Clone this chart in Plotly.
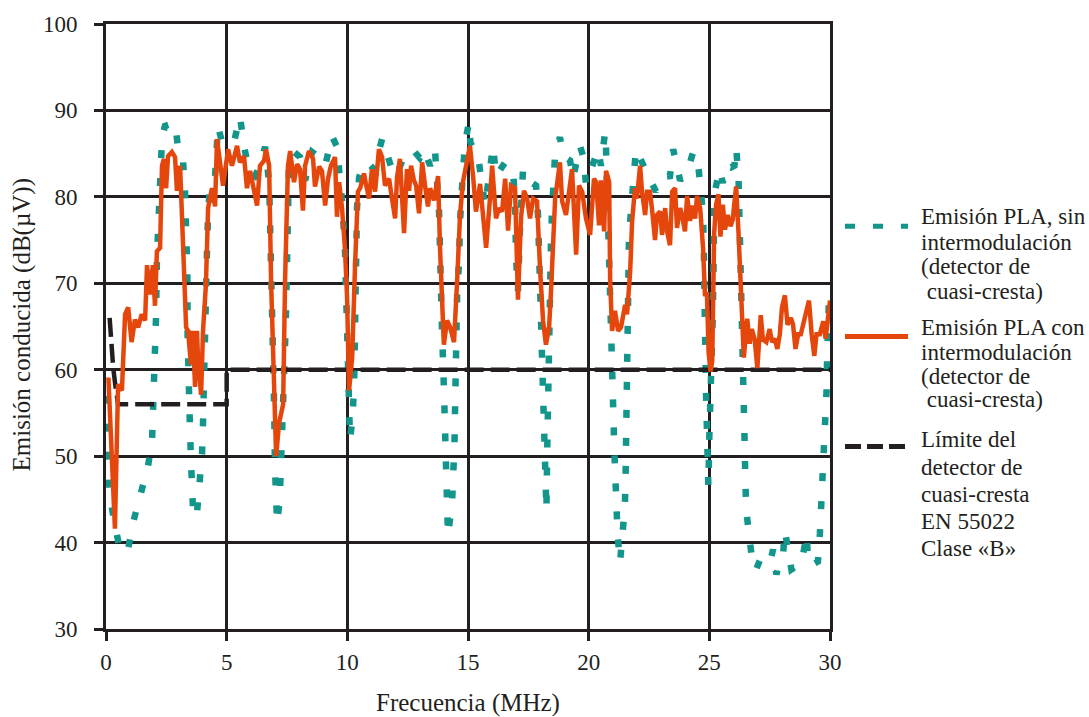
import plotly.graph_objects as go

# ---------------- data ----------------
freq_con = [0.1, 0.2, 0.37, 0.5, 0.66, 0.79, 0.92, 1.06, 1.2, 1.33, 1.48, 1.62, 1.7, 1.82, 1.94, 2.03,
            2.11, 2.24, 2.32, 2.40, 2.49, 2.57, 2.73, 2.86, 2.94, 3.07, 3.19, 3.32, 3.40, 3.52, 3.60, 3.69,
            3.77, 3.81, 3.94, 4.02, 4.14, 4.23, 4.39, 4.52, 4.60, 4.72, 4.85, 5.06, 5.22, 5.43, 5.55, 5.72,
            5.84, 5.97, 6.13, 6.26, 6.38, 6.55, 6.63, 6.76, 6.84, 6.96, 7.05, 7.17, 7.34, 7.42, 7.54, 7.63,
            7.79, 7.92, 8.04, 8.16, 8.25, 8.41, 8.58, 8.66, 8.83, 8.95, 9.08, 9.20, 9.32, 9.49, 9.57, 9.66,
            9.78, 9.90, 9.99, 10.07, 10.2, 10.32, 10.44, 10.53, 10.69, 10.77, 10.9, 11.02, 11.15, 11.31,
            11.44, 11.56, 11.73, 11.85, 11.98, 12.06, 12.18, 12.35, 12.47, 12.56, 12.64, 12.76, 12.85,
            12.97, 13.1, 13.22, 13.34, 13.43, 13.59, 13.76, 13.84, 14.0, 14.13, 14.26, 14.42, 14.55,
            14.67, 14.79, 14.92, 15.08, 15.21, 15.33, 15.5, 15.62, 15.75, 15.91, 16.0, 16.16, 16.29,
            16.41, 16.54, 16.66, 16.78, 16.95, 17.07, 17.2, 17.32, 17.45, 17.57, 17.7, 17.86, 17.99,
            18.11, 18.23, 18.36, 18.44, 18.61, 18.81, 18.9, 19.06, 19.19, 19.31, 19.48, 19.6, 19.73,
            19.89, 20.06, 20.22, 20.31, 20.43, 20.51, 20.64, 20.72, 20.85, 20.89, 20.97, 21.09, 21.22,
            21.34, 21.51, 21.59, 21.72, 21.8, 21.92, 22.0, 22.13, 22.21, 22.34, 22.42, 22.54, 22.62,
            22.75, 22.83, 22.96, 23.04, 23.17, 23.25, 23.37, 23.46, 23.58, 23.66, 23.79, 23.87, 23.99,
            24.08, 24.2, 24.28, 24.41, 24.49, 24.62, 24.74, 24.82, 24.9, 24.97, 25.05, 25.12, 25.2,
            25.28, 25.38, 25.46, 25.56, 25.65, 25.76, 25.88, 25.97, 26.11, 26.21, 26.32, 26.43, 26.57,
            26.67, 26.76, 26.88, 26.99, 27.13, 27.22, 27.36, 27.5, 27.6, 27.71, 27.82, 27.92, 28.01,
            28.13, 28.24, 28.38, 28.47, 28.57, 28.68, 28.79, 28.89, 29.03, 29.13, 29.24, 29.35, 29.44,
            29.58, 29.72, 29.82, 30.0]
emis_con = [59.1, 52.0, 41.6, 58.3, 57.6, 66.4, 67.2, 63.2, 65.8, 64.9, 66.4, 65.7, 72.1, 68.7, 72.1, 67.4,
            73.7, 74.1, 83.6, 84.4, 81.0, 84.7, 85.2, 84.6, 80.7, 83.6, 74.1, 64.9, 64.5, 60.6, 64.5, 58.0,
            64.5, 61.4, 57.1, 64.5, 69.8, 78.7, 81.0, 78.9, 86.7, 83.6, 81.3, 85.5, 83.6, 85.9, 84.0, 84.7,
            81.0, 83.0, 81.0, 79.0, 83.6, 84.2, 85.5, 83.6, 70.3, 58.8, 50.0, 53.8, 56.0, 70.3, 83.6, 85.3,
            81.7, 83.8, 83.2, 78.4, 83.6, 85.3, 84.4, 81.2, 83.5, 83.0, 79.0, 82.1, 83.6, 84.6, 77.7, 81.7,
            78.7, 74.1, 68.3, 57.6, 61.4, 72.1, 80.6, 81.0, 82.7, 81.5, 79.8, 83.2, 80.6, 85.5,
            84.6, 81.3, 82.1, 79.8, 77.5, 82.3, 84.4, 75.8, 83.2, 80.7, 83.6, 81.9, 81.3,
            78.1, 84.0, 81.3, 78.9, 81.0, 79.6, 82.4, 74.1, 62.9, 65.7, 64.9, 63.2, 70.3,
            77.9, 81.7, 83.6, 85.9, 82.4, 78.3, 81.5, 77.5, 74.1, 79.8, 83.6, 77.5, 78.7,
            78.3, 82.1, 76.1, 81.3, 81.0, 68.1, 77.7, 80.7, 79.8, 77.5, 79.8, 79.5, 71.4,
            65.7, 62.9, 64.9, 69.1, 79.8, 84.0, 79.5, 77.9, 81.0, 83.2, 73.3, 81.3, 80.6,
            77.5, 75.6, 82.1, 81.7, 76.7, 81.9, 76.0, 83.0, 81.7, 70.3, 64.5, 66.8, 64.5,
            64.9, 67.5, 66.4, 71.4, 77.2, 81.0, 79.8, 83.6, 80.6, 77.9, 80.6, 80.6, 78.7,
            75.0, 77.9, 78.3, 75.6, 78.7, 76.0, 74.4, 80.6, 81.0, 76.4, 78.7, 77.9, 76.0,
            80.1, 77.2, 79.0, 77.5, 80.1, 78.7, 74.1, 68.5, 69.0, 62.0, 59.8, 61.0, 75.8,
            79.1, 80.3, 75.4, 79.1, 76.2, 77.9, 76.6, 77.4, 81.2, 75.8, 69.6, 61.4, 65.9,
            63.0, 64.7, 63.5, 60.2, 66.3, 63.5, 63.2, 64.7, 63.2, 63.6, 62.4, 64.1, 67.2,
            68.6, 65.2, 66.0, 65.2, 62.4, 64.1, 64.1, 65.2, 66.8, 68.0, 64.1, 61.6, 64.1,
            64.1, 65.6, 63.6, 68.0]

freq_sin = [0.0, 0.05, 0.12, 0.25, 0.37, 0.55, 0.75, 0.9, 1.12, 1.41, 1.74, 1.91, 1.95, 2.03, 2.05, 2.07,
            2.11, 2.15, 2.24, 2.32, 2.44, 2.6, 2.86, 2.98, 3.19, 3.27, 3.33, 3.37, 3.38, 3.40, 3.44, 3.48,
            3.52, 3.56, 3.62, 3.77, 3.9, 3.98, 4.02, 4.04, 4.08, 4.1, 4.14, 4.19, 4.23, 4.31, 4.52, 4.64,
            4.81, 5.06, 5.3, 5.55, 5.72, 5.93, 6.17, 6.38, 6.59, 6.76, 6.8, 6.84, 6.86, 6.92, 6.94, 6.96,
            6.97, 7.0, 7.05, 7.09, 7.2, 7.25, 7.33, 7.38, 7.4, 7.42, 7.46, 7.48, 7.5, 7.54, 7.58, 7.79,
            8.04, 8.25, 8.54, 8.83, 9.08, 9.37, 9.57, 9.78, 9.9, 9.99, 10.02, 10.07, 10.11, 10.2, 10.28,
            10.32, 10.34, 10.36, 10.4, 10.49, 10.69, 10.82, 11.11, 11.44, 11.73, 11.94, 12.14, 12.35,
            12.56, 12.76, 13.0, 13.18, 13.43, 13.63, 13.8, 13.84, 13.92, 14.0, 14.03, 14.05, 14.09,
            14.13, 14.17, 14.34, 14.42, 14.44, 14.46, 14.47, 14.49, 14.55, 14.63, 14.67, 14.79, 14.88,
            15.04, 15.1, 15.42, 15.54, 15.71, 15.95, 16.04, 16.16, 16.54, 16.87, 16.95, 16.99, 17.07,
            17.15, 17.28, 17.61, 17.82, 17.9, 17.94, 17.97, 17.99, 18.01, 18.07, 18.11, 18.15, 18.19,
            18.23, 18.25, 18.28, 18.32, 18.36, 18.4, 18.44, 18.48, 18.53, 18.61, 18.81, 18.94, 19.23,
            19.35, 19.64, 19.77, 19.89, 20.18, 20.39, 20.51, 20.68, 20.72, 20.76, 20.8, 20.85, 20.89,
            20.91, 20.93, 20.97, 21.0, 21.03, 21.06, 21.1, 21.15, 21.2, 21.3, 21.42, 21.5, 21.53, 21.55,
            21.56, 21.57, 21.58, 21.6, 21.63, 21.65, 21.67, 21.76, 21.84, 21.96, 22.34, 22.54, 22.79,
            23.08, 23.37, 23.5, 23.79, 24.12, 24.33, 24.53, 24.66, 24.74, 24.77, 24.79, 24.82, 24.86,
            24.9, 24.93, 24.96, 25.0, 25.04, 25.07, 25.14, 25.18, 25.21, 25.42, 25.56, 25.69, 25.9,
            26.04, 26.11, 26.21, 26.25, 26.32, 26.34, 26.39, 26.4, 26.43, 26.45, 26.47, 26.49, 26.53,
            26.67, 26.81, 26.94, 27.1, 27.29, 27.5, 27.64, 27.78, 27.92, 28.06, 28.13, 28.26, 28.4,
            28.61, 28.82, 29.03, 29.1, 29.31, 29.5, 29.58, 29.65, 29.72, 29.79, 29.82, 29.86, 29.88,
            29.9, 29.95]
emis_sin = [57.0, 50.5, 47.0, 43.9, 41.9, 39.5, 38.8, 39.0, 42.3, 45.7, 48.8, 51.9, 55.4, 58.8, 62.2, 65.8,
            72.9, 76.7, 83.2, 86.7, 88.2, 88.4, 88.6, 85.8, 84.2, 81.0, 77.2, 71.4, 64.1, 60.0, 56.5, 53.1,
            49.6, 46.2, 42.9, 43.4, 46.9, 50.3, 53.8, 57.7, 61.1, 64.5, 71.0, 74.4, 77.9, 81.5, 82.4, 88.2,
            86.3, 86.0, 86.3, 89.3, 85.9, 82.9, 82.4, 83.6, 85.8, 81.7, 76.7, 72.9, 69.5, 66.0, 62.2, 59.1,
            55.4, 48.8, 45.4, 42.2, 45.0, 48.8, 52.0, 54.9, 59.5, 62.9, 66.8, 70.3, 73.7, 77.5, 83.6, 85.2,
            84.6, 81.9, 85.2, 84.6, 83.6, 87.0, 85.8, 79.5, 74.1, 64.5, 60.0, 54.9, 51.9, 54.0, 58.0,
            64.9, 68.3, 75.2, 78.7, 82.3, 83.8, 84.0, 83.2, 86.7, 84.0, 82.4, 83.2, 84.7,
            84.6, 85.3, 84.5, 85.5, 83.6, 85.5, 78.3, 71.4, 64.9, 58.0, 54.6, 51.1, 47.7,
            43.9, 40.8, 44.6, 48.0, 51.5, 54.9, 58.8, 62.2, 68.7, 72.6, 77.2, 82.9, 86.3,
            88.6, 86.3, 84.6, 81.7, 79.0, 84.0, 85.9, 82.4, 84.0, 82.7, 79.8, 72.9, 69.1,
            76.0, 83.2, 81.7, 81.3, 77.9, 74.4, 71.0, 67.5, 64.1, 60.6, 57.2, 53.8, 50.2,
            46.9, 43.7, 50.3, 60.6, 67.5, 71.4, 74.9, 78.3, 81.3, 85.0, 86.9, 84.7, 84.2,
            82.1, 85.9, 84.7, 81.5, 83.8, 85.5, 83.6, 87.5, 85.5, 82.1, 78.7, 75.2, 71.8,
            68.3, 64.9, 61.2, 57.8, 54.3, 50.9, 47.7, 44.2, 40.8, 37.7, 40.8, 44.2, 47.7, 51.1,
            54.3, 57.8, 61.2, 64.9, 68.3, 71.8, 75.2, 78.7, 82.1, 85.5, 83.2, 82.1, 80.6,
            82.3, 82.4, 85.5, 81.9, 83.2, 85.2, 84.0, 81.0, 77.9, 74.1, 67.2, 63.7, 57.6,
            53.1, 49.6, 46.5, 52.3, 55.6, 59.3, 65.9, 72.9, 80.3, 83.2, 81.6, 83.6, 83.4,
            83.6, 85.7, 82.2, 78.3, 71.7, 68.0, 64.3, 61.0, 57.7, 54.4, 50.7, 47.4, 43.7,
            40.4, 37.1, 36.9, 38.0, 37.7, 37.5, 39.2, 36.3, 37.9, 38.8, 41.4, 39.6, 36.9,
            37.3, 37.5, 41.0, 37.5, 37.5, 37.8, 41.0, 44.5, 48.2, 50.9, 54.4, 57.7, 61.4,
            65.1, 67.6]

freq_lim = [0.15, 0.2, 0.3, 0.4, 0.5, 5.0, 5.0, 30.0]
emis_lim = [66.0, 63.6, 60.2, 57.9, 56.0, 56.0, 60.0, 60.0]

x_ticks = [0, 5, 10, 15, 20, 25, 30]
y_ticks = [30, 40, 50, 60, 70, 80, 90, 100]

legend_blocks = [
    ["Emisión PLA, sin", "intermodulación", "(detector de", " cuasi-cresta)"],
    ["Emisión PLA con", "intermodulación", "(detector de", " cuasi-cresta)"],
    ["Límite del", "detector de", "cuasi-cresta", "EN 55022", "Clase «B»"],
]

# ---------------- style ----------------
TEAL = "#12958A"
ORANGE = "#E5460C"
INK = "#231F20"
FONT = "Liberation Serif, Times New Roman, serif"

W, H = 1089, 717
L, R, T, B = 106, 259, 19, 88
PW, PH = W - L - R, H - T - B


def px_to_paper(px, py):
    return (px - L) / PW, (H - B - py) / PH


fig = go.Figure()
fig.add_trace(go.Scatter(x=freq_sin, y=emis_sin, mode="lines",
                         line=dict(color=TEAL, width=6.5, dash="8px,20px"),
                         name="Emisión PLA, sin intermodulación", showlegend=False))
fig.add_trace(go.Scatter(x=freq_lim, y=emis_lim, mode="lines",
                         line=dict(color=INK, width=4.5, dash="19px,7px"),
                         name="Límite", showlegend=False))
fig.add_trace(go.Scatter(x=freq_con, y=emis_con, mode="lines",
                         line=dict(color=ORANGE, width=4.5),
                         name="Emisión PLA con intermodulación", showlegend=False))

axis_common = dict(showgrid=True, gridcolor=INK, gridwidth=3, showline=True, linecolor=INK,
                   linewidth=3, mirror=True, ticks="outside", ticklen=9, tickwidth=3,
                   tickcolor=INK, zeroline=False,
                   tickfont=dict(family=FONT, size=23, color=INK))

fig.update_xaxes(range=[0, 30], tickvals=x_ticks, ticklabelstandoff=1, **axis_common)
fig.update_yaxes(range=[30, 100], tickvals=y_ticks, ticklabelstandoff=12, **axis_common)

shapes = []
annotations = []
# legend samples
samples = [
    (223, dict(color=TEAL, width=5, dash="10px,18px")),
    (334, dict(color=ORANGE, width=5)),
    (445, dict(color=INK, width=5, dash="16px,6px")),
]
for py, ln in samples:
    x0, y0 = px_to_paper(845, py)
    x1, _ = px_to_paper(908, py)
    shapes.append(dict(type="line", xref="paper", yref="paper", x0=x0, x1=x1, y0=y0, y1=y0,
                       line=ln, layer="above"))

line_pos = [[213, 239, 264, 289], [325, 350, 374, 398], [438, 466, 493, 521, 548]]
for block, ys in zip(legend_blocks, line_pos):
    for txt, py in zip(block, ys):
        xp, yp = px_to_paper(919, py)
        annotations.append(dict(text=txt.replace(" ", "&nbsp;", 1) if txt.startswith(" ") else txt,
                                xref="paper", yref="paper", x=xp, y=yp,
                                xanchor="left", yanchor="middle", showarrow=False,
                                font=dict(family=FONT, size=23, color=INK)))

# axis titles
xp, yp = px_to_paper(22, 322)
annotations.append(dict(text="Emisión conducida (dB(µV))", xref="paper", yref="paper", x=xp, y=yp,
                        textangle=-90, showarrow=False, xanchor="center", yanchor="middle",
                        font=dict(family=FONT, size=25, color=INK)))
xp, yp = px_to_paper(468, 704)
annotations.append(dict(text="Frecuencia (MHz)", xref="paper", yref="paper", x=xp, y=yp,
                        showarrow=False, xanchor="center", yanchor="middle",
                        font=dict(family=FONT, size=25, color=INK)))

fig.update_layout(width=W, height=H, margin=dict(l=L, r=R, t=T, b=B),
                  paper_bgcolor="white", plot_bgcolor="white",
                  showlegend=False, shapes=shapes, annotations=annotations,
                  font=dict(family=FONT, color=INK))

fig.write_html("out.html")
